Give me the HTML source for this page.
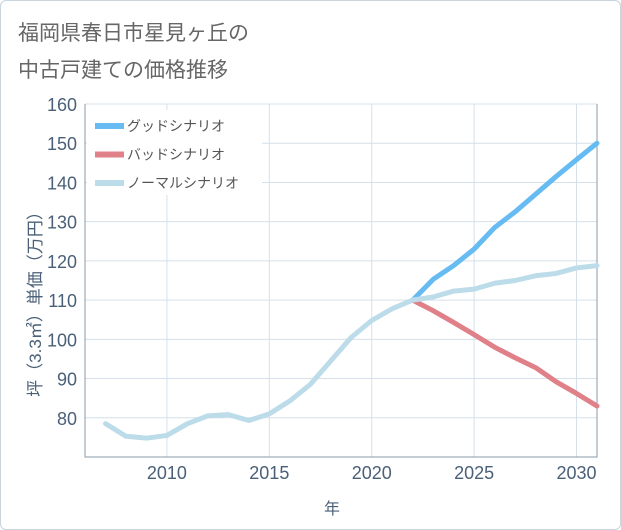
<!DOCTYPE html>
<html><head><meta charset="utf-8"><style>
body{margin:0;background:#fff;font-family:"Liberation Sans","Noto Sans CJK JP",sans-serif;}
#wrap{position:relative;width:619px;height:528px;border:1px solid #c8d4de;border-radius:6px;overflow:hidden;background:#fff}
</style></head><body>
<div id="wrap">
<svg id="c" width="621" height="530" style="position:absolute;left:-1px;top:-1px">
<text x="18" y="40" font-size="21" fill="#666">福岡県春日市星見ヶ丘の</text>
<text x="18" y="77" font-size="21" fill="#666">中古戸建ての価格推移</text>
<text transform="translate(41,300) rotate(-90)" font-size="17" fill="#4a6078" text-anchor="middle">坪（3.3㎡）単価（万円）</text>
<text x="332" y="514" font-size="16" fill="#4a6078" text-anchor="middle">年</text>
<g id="grid"></g><g id="series"></g><g id="legend"></g>
</svg>
</div>
<script>
const years=[2007,2008,2009,2010,2011,2012,2013,2014,2015,2016,2017,2018,2019,2020,2021,2022,2023,2024,2025,2026,2027,2028,2029,2030,2031];
const normal=[78.5,75.3,74.8,75.5,78.5,80.5,80.8,79.3,81,84.3,88.5,94.5,100.5,104.8,107.8,110,110.8,112.3,112.8,114.3,115,116.2,116.8,118.2,118.8];
const fyears=[2022,2023,2024,2025,2026,2027,2028,2029,2030,2031];
const good=[110,115.3,118.8,123,128.5,132.5,137,141.5,145.8,150];
const bad=[110,107.3,104.3,101.2,98,95.3,92.8,89.2,86.2,83];
const yTicks=[80,90,100,110,120,130,140,150,160];
const xTicks=[2010,2015,2020,2025,2030];
const L=85,R=597,T=104,B=457,x0=2006,x1=2031,y0=70,y1=160;
const xs=v=>L+(v-x0)/(x1-x0)*(R-L);
const ys=v=>B-(v-y0)/(y1-y0)*(B-T);
const NS="http://www.w3.org/2000/svg";
function mk(p,t,a){const e=document.createElementNS(NS,t);for(const k in a)e.setAttribute(k,a[k]);p.appendChild(e);return e;}
const g=document.getElementById('grid');
yTicks.forEach(v=>{
 const l=mk(g,'line',{x1:L,x2:R,y1:ys(v),y2:ys(v),stroke:'#d5e0ea','stroke-width':1});
 
 
 const t=mk(g,'text',{x:L-8,y:ys(v)+7,'font-size':18,fill:'#4a6078','text-anchor':'end'});
 t.textContent=v;
 
 
});
xTicks.forEach(v=>{
 const l=mk(g,'line',{x1:xs(v),x2:xs(v),y1:T,y2:B,stroke:'#d5e0ea','stroke-width':1});
 
 
 const t=mk(g,'text',{x:xs(v),y:B+22,'font-size':18,fill:'#4a6078','text-anchor':'middle'});
 t.textContent=v;
 
 
});
const ax=mk(g,'path',{d:`M${L},${T}V${B}H${R}V${T}`,fill:'none',stroke:'#8a9aa8','stroke-width':1});


const s=document.getElementById('series');
function line(xv,yv,c,n){
 const p=mk(s,'polyline',{points:xv.map((x,i)=>xs(x)+','+ys(yv[i])).join(' '),fill:'none',stroke:c,'stroke-width':5,'stroke-linejoin':'round','stroke-linecap':'round'});
 
 
}
line(fyears,bad,'#e08088','bad-scenario-line');
line(fyears,good,'#66bbf2','good-scenario-line');
line(years,normal,'#bcdcea','normal-scenario-line');
const lg=document.getElementById('legend');
const bg=mk(lg,'rect',{x:87,y:110,width:175,height:85,fill:'#fff'});


[['グッドシナリオ','#66bbf2'],['バッドシナリオ','#e08088'],['ノーマルシナリオ','#bcdcea']].forEach((d,i)=>{
 const y=126+i*28.5;
 const r=mk(lg,'rect',{x:95,y:y-3,width:29,height:6,fill:d[1]});
 
 
 const t=mk(lg,'text',{x:127,y:y+5,'font-size':14,fill:'#555'});
 t.textContent=d[0];
 
 
});
</script>
</body></html>
